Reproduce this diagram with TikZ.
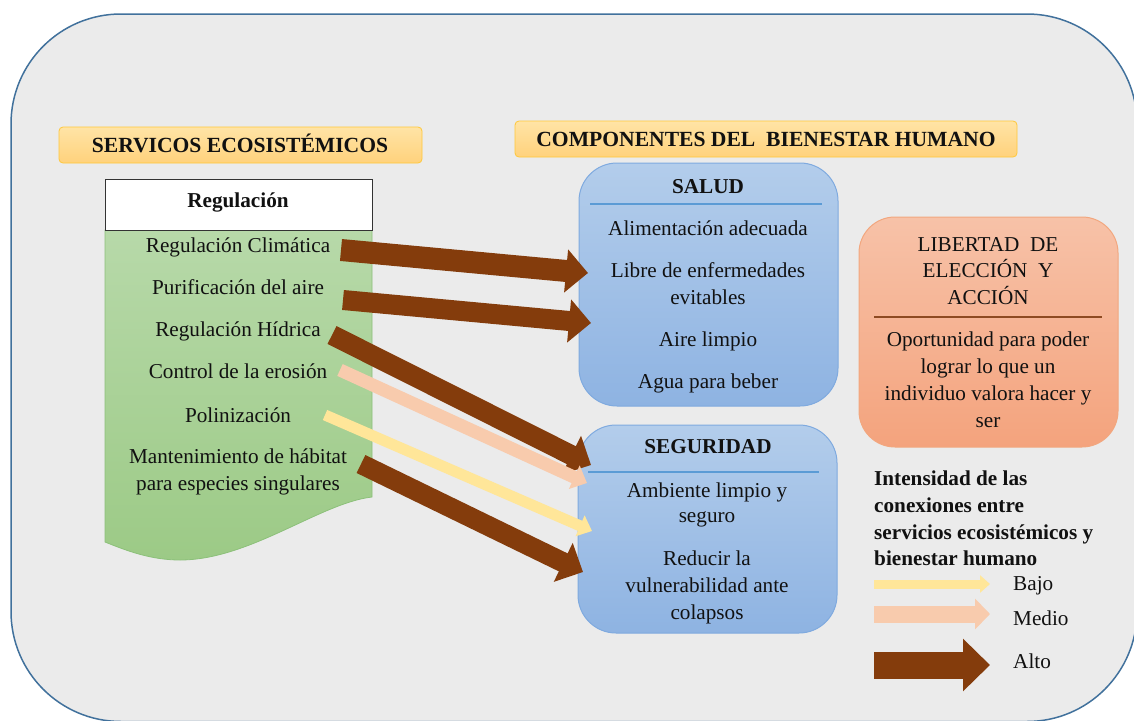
\documentclass[tikz,border=0pt]{standalone}
\usepackage{fontspec}
\setmainfont{Liberation Serif}
\usetikzlibrary{arrows.meta}
\definecolor{bg}{HTML}{EBEBEB}
\definecolor{framec}{HTML}{41719C}
\definecolor{hdrtop}{HTML}{FFE4A6}
\definecolor{hdrbot}{HTML}{FFD27C}
\definecolor{hdrborder}{HTML}{FFC83A}
\definecolor{greentop}{HTML}{B7D9A9}
\definecolor{greenbot}{HTML}{9CCA86}
\definecolor{greenline}{HTML}{8CC07A}
\definecolor{bluetop}{HTML}{B3CDEB}
\definecolor{bluebot}{HTML}{8EB3E2}
\definecolor{blueline}{HTML}{5B9BD5}
\definecolor{blueborder}{HTML}{7FAADF}
\definecolor{orgtop}{HTML}{F7C2A8}
\definecolor{orgbot}{HTML}{F4A37D}
\definecolor{orgborder}{HTML}{F2A77F}
\definecolor{brownline}{HTML}{8E4A22}
\definecolor{altoc}{HTML}{843C0C}
\definecolor{medioc}{HTML}{F8CBAD}
\definecolor{bajoc}{HTML}{FFE699}
\definecolor{txtc}{HTML}{111111}
\begin{document}
\begin{tikzpicture}[x=1pt,y=-1pt,
  txt/.style={anchor=base,inner sep=0pt,text=txtc,font=\fontsize{21.2}{24}\selectfont},
  btxt/.style={txt,font=\bfseries\fontsize{21.2}{24}\selectfont},
  htxt/.style={txt,font=\bfseries\fontsize{21.6}{24}\selectfont},
  ltxt/.style={btxt,anchor=base west},
  hdrbox/.style={draw=hdrborder,line width=0.8pt,top color=hdrtop,bottom color=hdrbot,rounded corners=4pt,inner sep=0pt},
  bluebox/.style={draw=blueborder,line width=1pt,top color=bluetop,bottom color=bluebot,rounded corners=38pt,inner sep=0pt},
  orgbox/.style={draw=orgborder,line width=1pt,top color=orgtop,bottom color=orgbot,rounded corners=36pt,inner sep=0pt},
  altoarrow/.style={draw=altoc,line width=#1,-{Triangle[length=22pt,width=42pt]}},
  medioarrow/.style={draw=medioc,line width=13pt,-{Triangle[length=14pt,width=25pt]}},
  bajoarrow/.style={draw=bajoc,line width=11pt,-{Triangle[length=13pt,width=22pt]}}
]
\useasboundingbox (0,0) rectangle (1134,720);
\begin{scope}
\clip (0,0) rectangle (1134,720);
\draw[framec,line width=1.5pt,fill=bg,rounded corners=110pt] (11,14) rectangle (1137,721.5);
\end{scope}

% headers
\node[hdrbox,minimum width=363pt,minimum height=36pt] (hse) at (240.5,145) {};
\node[htxt] (hset) at (240,152) {SERVICOS ECOSISTÉMICOS};
\node[hdrbox,minimum width=502pt,minimum height=36pt] (hcb) at (766,139) {};
\node[htxt] (hcbt) at (766,146) {COMPONENTES DEL\ \ BIENESTAR HUMANO};

% left column
\path[draw=greenline,line width=0.8pt,top color=greentop,bottom color=greenbot]
  (105,230) -- (372,230) -- (372,497) .. controls (320,503) and (250,560) .. (180,560)
  .. controls (150,560) and (125,550) .. (105,542) -- cycle;
\node[draw=black!80,fill=white,line width=0.8pt,minimum width=267pt,minimum height=51pt,inner sep=0pt] (reg) at (238.5,204.5) {};
\node[btxt] (regt) at (238,207.5) {Regulación};
\node[txt] (s1) at (238,252) {Regulación Climática};
\node[txt] (s2) at (238,294) {Purificación del aire};
\node[txt] (s3) at (238,336) {Regulación Hídrica};
\node[txt] (s4) at (238,378) {Control de la erosión};
\node[txt] (s5) at (238,422) {Polinización};
\node[txt] (s6) at (238,463) {Mantenimiento de hábitat};
\node[txt] (s6b) at (238,490) {para especies singulares};

% SALUD
\node[bluebox,minimum width=259pt,minimum height=243pt] (salud) at (708.5,284.5) {};
\node[btxt] (saludt) at (708,193) {SALUD};
\coordinate (sl1) at (590,204); \coordinate (sl2) at (822,204);
\draw[blueline,line width=1.5pt] (sl1) -- (sl2);
\node[txt] (h1) at (708,235) {Alimentación adecuada};
\node[txt] (h2) at (708,277) {Libre de enfermedades};
\node[txt] (h2b) at (708,304) {evitables};
\node[txt] (h3) at (708,346) {Aire limpio};
\node[txt] (h4) at (708,388) {Agua para beber};

% SEGURIDAD
\node[bluebox,minimum width=259pt,minimum height=208pt] (seg) at (707.5,529) {};
\node[btxt] (segt) at (708,453) {SEGURIDAD};
\coordinate (gl1) at (588,472); \coordinate (gl2) at (819,472);
\draw[blueline,line width=1.5pt] (gl1) -- (gl2);
\node[txt] (g1) at (707,497) {Ambiente limpio y};
\node[txt] (g1b) at (707,522) {seguro};
\node[txt] (g2) at (707,565) {Reducir la};
\node[txt] (g2b) at (707,592) {vulnerabilidad ante};
\node[txt] (g2c) at (707,619) {colapsos};

% LIBERTAD
\node[orgbox,minimum width=259pt,minimum height=230pt] (lib) at (988.5,332) {};
\node[txt] (lt1) at (988,251) {LIBERTAD\ \ DE};
\node[txt] (lt2) at (988,277) {ELECCIÓN\ \ Y};
\node[txt] (lt3) at (988,304) {ACCIÓN};
\coordinate (ll1) at (874,317); \coordinate (ll2) at (1102,317);
\draw[brownline,line width=1.5pt] (ll1) -- (ll2);
\node[txt] (l1) at (988,346) {Oportunidad para poder};
\node[txt] (l2) at (988,373) {lograr lo que un};
\node[txt] (l3) at (988,400) {individuo valora hacer y};
\node[txt] (l4) at (988,427) {ser};

% connectors
\coordinate (a1s) at (341,250); \coordinate (a1e) at (588,273);
\coordinate (a2s) at (343,300); \coordinate (a2e) at (591,323);
\coordinate (a3s) at (332,335); \coordinate (a3e) at (591,465);
\coordinate (a4s) at (340,370); \coordinate (a4e) at (587,483);
\coordinate (a5s) at (325,415); \coordinate (a5e) at (592,531);
\coordinate (a6s) at (361,464); \coordinate (a6e) at (583,572);
\draw[altoarrow=22pt] (a1s) -- (a1e);
\draw[altoarrow=20pt] (a2s) -- (a2e);
\draw[altoarrow=20pt] (a3s) -- (a3e);
\draw[medioarrow] (a4s) -- (a4e);
\draw[bajoarrow] (a5s) -- (a5e);
\draw[altoarrow=20pt] (a6s) -- (a6e);

% legend
\node[ltxt] (k1) at (874,485) {Intensidad de las};
\node[ltxt] (k2) at (874,512) {conexiones entre};
\node[ltxt] (k3) at (874,539) {servicios ecosistémicos y};
\node[ltxt] (k4) at (874,565) {bienestar humano};
\coordinate (b1) at (874,584); \coordinate (b2) at (990,584);
\coordinate (m1) at (874,614); \coordinate (m2) at (990,614);
\coordinate (t1) at (874,665); \coordinate (t2) at (990,665);
\draw[draw=bajoc,line width=9pt,-{Triangle[length=10pt,width=17pt]}] (b1) -- (b2);
\draw[draw=medioc,line width=17pt,-{Triangle[length=15pt,width=30pt]}] (m1) -- (m2);
\draw[draw=altoc,line width=27pt,-{Triangle[length=27pt,width=51pt]}] (t1) -- (t2);
\node[txt,anchor=base west] (kb) at (1013,590) {Bajo};
\node[txt,anchor=base west] (km) at (1013,625) {Medio};
\node[txt,anchor=base west] (ka) at (1013,668) {Alto};
\end{tikzpicture}
\end{document}
